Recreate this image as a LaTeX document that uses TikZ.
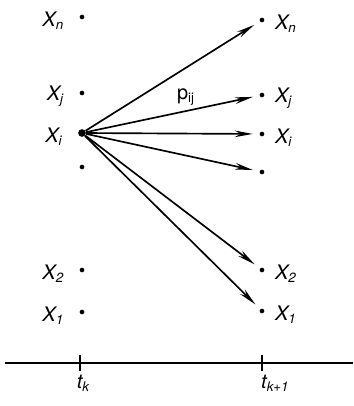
\documentclass[tikz,border=0pt]{standalone}
\usepackage{fontspec}
\setmainfont{TeX Gyre Heros}
\usetikzlibrary{arrows.meta,positioning}

\begin{document}
\begin{tikzpicture}[
  x=0.6pt, y=-0.6pt,
  font=\large\itshape,
  pt/.style={circle,fill=black,inner sep=0pt,minimum size=2.8pt},
  src/.style={pt,minimum size=4.6pt},
  lbl/.style={inner sep=1pt},
  tr/.style={-{Stealth[length=3.8mm,width=1.4mm]},line width=1pt,shorten >=4pt},
  axis/.style={line width=1pt},
]
\useasboundingbox (0,0) rectangle (353,406);

% --- time t_k ------------------------------------------------------------
\node[pt]  (ln) at (82,17)  {};
\node[pt]  (lj) at (82,93)  {};
\node[src] (li) at (82,133) {};
\node[pt]  (lu) at (82,167) {};
\node[pt]  (l2) at (82,270) {};
\node[pt]  (l1) at (82,312) {};

\node[lbl,left=8pt of ln,yshift=-2pt] {X\textsubscript{n}};
\node[lbl,left=8pt of lj,yshift=-2pt] {X\textsubscript{j}};
\node[lbl,left=8pt of li,yshift=-2pt] {X\textsubscript{i}};
\node[lbl,left=8pt of l2,yshift=-2pt] {X\textsubscript{2}};
\node[lbl,left=8pt of l1,yshift=-2pt] {X\textsubscript{1}};

% --- time t_{k+1} --------------------------------------------------------
\node[pt] (rn) at (262,20)  {};
\node[pt] (rj) at (262,95)  {};
\node[pt] (ri) at (262,134) {};
\node[pt] (ru) at (262,172) {};
\node[pt] (r2) at (262,270) {};
\node[pt] (r1) at (262,311) {};

\node[lbl,right=5pt of rn,yshift=-2pt] {X\textsubscript{n}};
\node[lbl,right=5pt of rj,yshift=-2pt] {X\textsubscript{j}};
\node[lbl,right=5pt of ri,yshift=-2pt] {X\textsubscript{i}};
\node[lbl,right=5pt of r2,yshift=-2pt] {X\textsubscript{2}};
\node[lbl,right=5pt of r1,yshift=-2pt] {X\textsubscript{1}};

% --- transitions out of X_i ----------------------------------------------
\foreach \t in {rn,rj,ri,ru,r2,r1}
  \draw[tr] (li) -- (\t);
\node[lbl,font=\large\upshape] (pij) at (186,97) {p\textsubscript{ij}};

% --- time axis -----------------------------------------------------------
\coordinate (a0) at (5,363);
\coordinate (a1) at (353,363);
\draw[axis] (a0) -- (a1);
\coordinate (tk)  at (80,363);
\coordinate (tk1) at (262,363);
\draw[axis] ([yshift=5pt]tk) -- ([yshift=-5pt]tk);
\draw[axis] ([yshift=5pt]tk1) -- ([yshift=-5pt]tk1);
\node[lbl,below=6pt of tk,xshift=2pt]  {t\textsubscript{k}};
\node[lbl,below=6pt of tk1,xshift=8pt] {t\textsubscript{k+1}};
\end{tikzpicture}
\end{document}
